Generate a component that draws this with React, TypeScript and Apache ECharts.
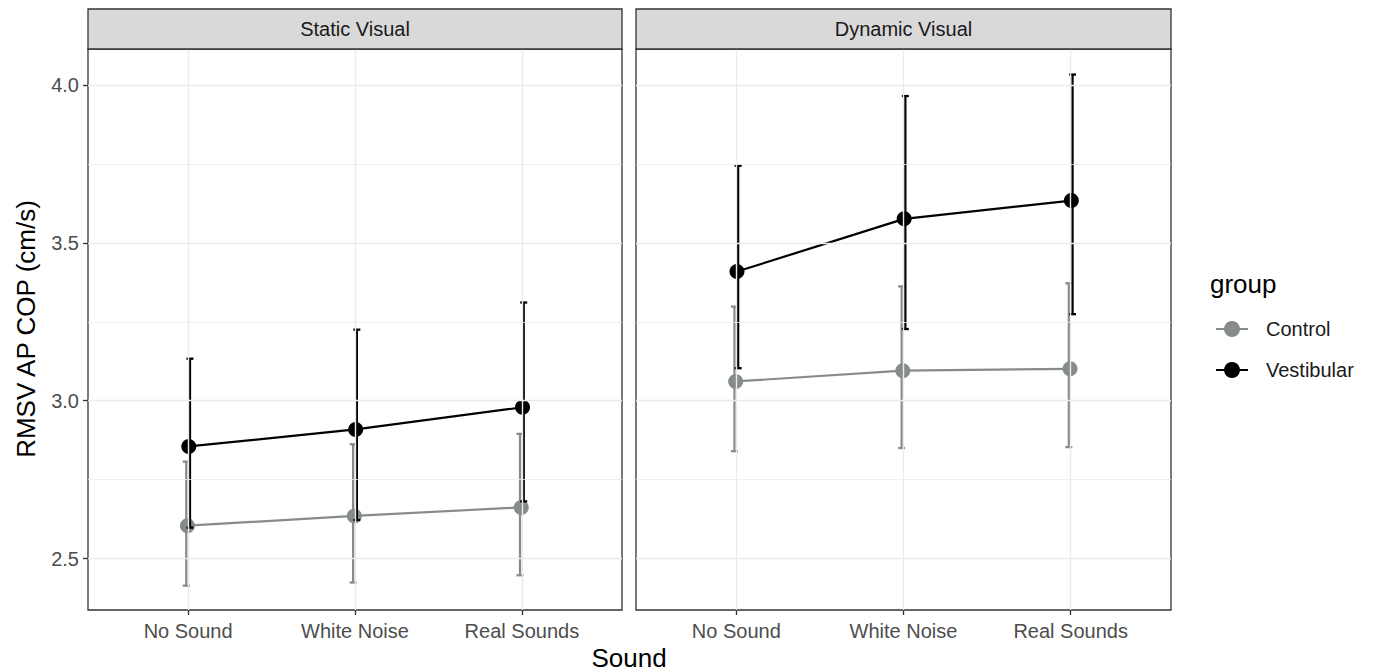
import React, { useEffect, useRef } from "react";
import * as echarts from "echarts";

const categories = ["No Sound", "White Noise", "Real Sounds"];
const panels = ["Static Visual", "Dynamic Visual"];
const groups = ["Control", "Vestibular"];
const yTicks = [2.5, 3.0, 3.5, 4.0];
const yMinorTicks = [2.75, 3.25, 3.75];

// Static Visual
const staticControlMean = [2.604, 2.635, 2.662];
const staticControlLow = [2.414, 2.424, 2.447];
const staticControlHigh = [2.807, 2.862, 2.895];
const staticVestMean = [2.855, 2.909, 2.979];
const staticVestLow = [2.598, 2.622, 2.681];
const staticVestHigh = [3.133, 3.225, 3.311];

// Dynamic Visual
const dynControlMean = [3.061, 3.095, 3.101];
const dynControlLow = [2.84, 2.85, 2.853];
const dynControlHigh = [3.298, 3.362, 3.372];
const dynVestMean = [3.409, 3.576, 3.634];
const dynVestLow = [3.103, 3.227, 3.274];
const dynVestHigh = [3.744, 3.965, 4.033];

const COLORS = ["#868c8a", "#000000"];
const FONT = "Liberation Sans, Arial, Helvetica, sans-serif";

export default function App() {
  const ref = useRef<HTMLDivElement>(null);
  useEffect(() => {
    if (!ref.current) return;
    const chart = echarts.init(ref.current, null, { renderer: "svg" });

    const gridLefts = [88, 636];
    const gridW = [534, 535];
    const top = 49;
    const height = 561;

    const data = [
      [
        [staticControlMean, staticControlLow, staticControlHigh],
        [staticVestMean, staticVestLow, staticVestHigh],
      ],
      [
        [dynControlMean, dynControlLow, dynControlHigh],
        [dynVestMean, dynVestLow, dynVestHigh],
      ],
    ];

    const pointDodge = [-0.004, 0.004];
    const barDodge = [-0.011, 0.011];

    const series: any[] = [];
    panels.forEach((_, p) => {
      series.push({
        type: "line",
        xAxisIndex: p,
        yAxisIndex: p,
        data: [],
        silent: true,
        z: 0,
        markLine: {
          silent: true,
          symbol: "none",
          animation: false,
          label: { show: false },
          data: [
            ...yMinorTicks.map((v) => ({ yAxis: v, lineStyle: { color: "#ebebeb", width: 0.8, type: "solid" } })),
            ...yTicks.map((v) => ({ yAxis: v, lineStyle: { color: "#ebebeb", width: 1.4, type: "solid" } })),
            ...categories.map((_, i) => ({ xAxis: i + 1, lineStyle: { color: "#ebebeb", width: 1.4, type: "solid" } })),
          ],
        },
      });
      groups.forEach((g, gi) => {
        const [mean, low, high] = data[p][gi];
        series.push({
          type: "custom",
          xAxisIndex: p,
          yAxisIndex: p,
          z: 3 + gi,
          silent: true,
          encode: { x: 0, y: [1, 2] },
          data: categories.map((_, i) => [i + 1 + barDodge[gi], low[i], high[i]]),
          renderItem: (params: any, api: any) => {
            const x = api.value(0);
            const lo = api.coord([x, api.value(1)]);
            const hi = api.coord([x, api.value(2)]);
            const hw = 3.5;
            const style = { stroke: COLORS[gi], lineWidth: 2.3 };
            return {
              type: "group",
              children: [
                { type: "line", shape: { x1: lo[0], y1: lo[1], x2: hi[0], y2: hi[1] }, style },
                { type: "line", shape: { x1: lo[0] - hw, y1: lo[1], x2: lo[0] + hw, y2: lo[1] }, style },
                { type: "line", shape: { x1: hi[0] - hw, y1: hi[1], x2: hi[0] + hw, y2: hi[1] }, style },
              ],
            };
          },
        });
        series.push({
          type: "line",
          name: g,
          xAxisIndex: p,
          yAxisIndex: p,
          z: 3 + gi,
          data: categories.map((_, i) => [i + 1 + pointDodge[gi], mean[i]]),
          symbol: "circle",
          symbolSize: 15,
          showSymbol: true,
          lineStyle: { color: COLORS[gi], width: 2.2 },
          itemStyle: { color: COLORS[gi], borderWidth: 0 },
          emphasis: { disabled: true },
        });
      });
    });

    const graphic: any[] = [];
    panels.forEach((name, p) => {
      graphic.push({
        type: "rect",
        shape: { x: gridLefts[p], y: 9, width: gridW[p], height: 40 },
        style: { fill: "#d9d9d9", stroke: "#333333", lineWidth: 1.3 },
        z: 10,
      });
      graphic.push({
        type: "text",
        x: gridLefts[p] + gridW[p] / 2,
        y: 29,
        style: {
          text: name,
          fill: "#1a1a1a",
          font: `20px ${FONT}`,
          textAlign: "center",
          textVerticalAlign: "middle",
        },
        z: 11,
      });
    });
    graphic.push({
      type: "text",
      x: 629,
      y: 658,
      style: { text: "Sound", fill: "#000", font: `26px ${FONT}`, textAlign: "center", textVerticalAlign: "middle" },
    });
    graphic.push({
      type: "text",
      x: 26,
      y: 329,
      rotation: Math.PI / 2,
      style: {
        text: "RMSV AP COP (cm/s)",
        fill: "#000",
        font: `26px ${FONT}`,
        textAlign: "center",
        textVerticalAlign: "middle",
      },
    });
    graphic.push({
      type: "text",
      x: 1210,
      y: 284,
      style: { text: "group", fill: "#000", font: `26px ${FONT}`, textAlign: "left", textVerticalAlign: "middle" },
    });

    const option: any = {
      animation: false,
      backgroundColor: "#ffffff",
      grid: panels.map((_, p) => ({
        left: gridLefts[p],
        top,
        width: gridW[p],
        height,
        show: true,
        borderColor: "#333333",
        borderWidth: 1.3,
        backgroundColor: "#ffffff",
      })),
      xAxis: panels.map((_, p) => ({
        type: "value",
        gridIndex: p,
        min: 0.4,
        max: 3.6,
        axisLine: { show: false },
        splitLine: { show: false },
        axisTick: { show: true, customValues: [1, 2, 3], length: 5, lineStyle: { color: "#333333", width: 1.3 } },
        axisLabel: {
          show: true,
          customValues: [1, 2, 3],
          formatter: (v: number) => categories[Math.round(v) - 1] ?? "",
          color: "#4d4d4d",
          fontSize: 20,
          fontFamily: FONT,
          margin: 11,
        },
      })),
      yAxis: panels.map((_, p) => ({
        type: "value",
        gridIndex: p,
        min: 2.337,
        max: 4.114,
        axisLine: { show: false },
        splitLine: { show: false },
        axisTick: {
          show: p === 0,
          customValues: yTicks,
          length: 5,
          lineStyle: { color: "#333333", width: 1.3 },
        },
        axisLabel: {
          show: p === 0,
          customValues: yTicks,
          formatter: (v: number) => v.toFixed(1),
          color: "#4d4d4d",
          fontSize: 20,
          fontFamily: FONT,
          margin: 9,
        },
      })),
      legend: {
        orient: "vertical",
        left: 1215,
        top: 319,
        itemWidth: 32,
        itemHeight: 20,
        itemGap: 21,
        padding: 0,
        data: groups,
        textStyle: { fontSize: 20, color: "#1a1a1a", fontFamily: FONT, padding: [0, 0, 0, 13] },
        selectedMode: false,
      },
      series,
      graphic,
    };
    chart.setOption(option);
    return () => chart.dispose();
  }, []);
  return (
    <div
      ref={ref}
      style={{ position: "fixed", left: 0, top: 0, width: 1376, height: 672 }}
    />
  );
}
